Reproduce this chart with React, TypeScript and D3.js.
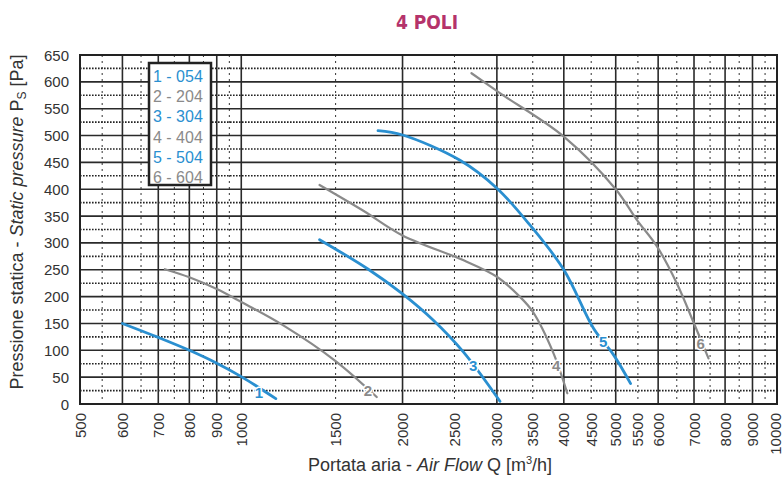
import React from "react";
import * as d3 from "d3";

const BLUE = "#2a8fd0";
const GRAY = "#8a8a8a";

const xTickLabels = [500, 600, 700, 800, 900, 1000, 1500, 2000, 2500, 3000, 3500, 4000, 4500, 5000, 5500, 6000, 7000, 8000, 9000, 10000];
const xSolidGrid = [600, 700, 800, 900, 1000, 2000, 3000, 4000, 5000, 6000, 7000, 8000, 9000];
const xDottedGrid = [550, 650, 750, 850, 950, 1500, 2500, 3500, 4500, 5500, 6500, 7500, 8500, 9500];
const yTickLabels = [0, 50, 100, 150, 200, 250, 300, 350, 400, 450, 500, 550, 600, 650];
const yDottedGrid = [25, 75, 125, 175, 225, 275, 325, 375, 425, 475, 525, 575, 625];

const curve1 = [[600, 150], [700, 124], [800, 100], [900, 76], [1000, 51], [1160, 10]];
const curve2 = [[720, 251], [800, 236], [900, 214], [1000, 190], [1200, 146], [1500, 80], [1790, 13]];
const curve3 = [[1400, 306], [1726, 251], [2000, 205], [2283, 156], [2597, 97], [3040, 5]];
const curve4 = [[1400, 408], [1690, 360], [2000, 314], [2594, 268], [3000, 237], [3310, 200], [3500, 172], [3817, 97], [4060, 20]];
const curve5 = [[1800, 509], [2000, 501], [2560, 454], [3000, 402], [3460, 333], [4000, 250], [4550, 140], [4950, 92], [5330, 38]];
const curve6 = [[2690, 616], [3040, 579], [4000, 498], [5000, 400], [5474, 343], [5965, 294], [6500, 225], [7000, 150], [7450, 85]];

const seriesNames = ["1 - 054", "2 - 204", "3 - 304", "4 - 404", "5 - 504", "6 - 604"];
const seriesTags = ["1", "2", "3", "4", "5", "6"];
const seriesColors = [BLUE, GRAY, BLUE, GRAY, BLUE, GRAY];
const seriesData = [curve1, curve2, curve3, curve4, curve5, curve6];
const labelPositions = [[1079, 22], [1724, 26], [2708, 72], [3870, 72], [4737, 116], [7204, 113]];

export default function App() {
  const W = 783, H = 477;
  const x = d3.scaleLog().domain([500, 10000]).range([80, 777]);
  const y = d3.scaleLinear().domain([0, 650]).range([404, 55]);
  const line = d3.line<number[]>().x(d => x(d[0])).y(d => y(d[1])).curve(d3.curveCatmullRom.alpha(0.5));
  const font = "'Liberation Sans', Arial, sans-serif";

  return (
    <div style={{ position: "absolute", left: 0, top: 0 }}>
      <svg width={W} height={H} style={{ display: "block", background: "#fff" }}>
        <text x={427} y={29} textAnchor="middle" fill="#b5336b"
          style={{ fontFamily: "'Liberation Sans Narrow', 'DejaVu Sans Condensed', sans-serif", fontWeight: 700, fontSize: 19 }}>
          4 POLI
        </text>

        {yDottedGrid.map(v => (
          <line key={"hd" + v} x1={80} x2={777} y1={y(v)} y2={y(v)} stroke="#222" strokeWidth={1.6} strokeDasharray="1.6 1.4" />
        ))}
        {xDottedGrid.map(v => (
          <line key={"vd" + v} x1={x(v)} x2={x(v)} y1={55} y2={404} stroke="#333" strokeWidth={1} strokeDasharray="2 4" />
        ))}
        {yTickLabels.map(v => (
          <line key={"hs" + v} x1={80} x2={777} y1={y(v)} y2={y(v)} stroke="#2a2a2a" strokeWidth={1.6} />
        ))}
        {xSolidGrid.map(v => (
          <line key={"vs" + v} x1={x(v)} x2={x(v)} y1={55} y2={404} stroke="#2a2a2a" strokeWidth={1.6} />
        ))}
        <rect x={80} y={55} width={697} height={349} fill="none" stroke="#222" strokeWidth={2} />

        {yTickLabels.map(v => (
          <text key={"yl" + v} x={69} y={y(v) + 5.5} textAnchor="end" fill="#333" style={{ fontFamily: font, fontSize: 15 }}>
            {v}
          </text>
        ))}
        {xTickLabels.map(v => (
          <text key={"xl" + v} transform={`translate(${Math.min(x(v) + 5.5, 781)},413) rotate(-90)`} textAnchor="end" fill="#333"
            style={{ fontFamily: font, fontSize: 15 }}>
            {v}
          </text>
        ))}

        {seriesData.map((d, i) => (
          <path key={"c" + i} d={line(d) || ""} fill="none" stroke={seriesColors[i]}
            strokeWidth={seriesColors[i] === BLUE ? 2.8 : 2.2} strokeLinecap="round" />
        ))}
        {labelPositions.map((p, i) => (
          <text key={"lb" + i} x={x(p[0])} y={y(p[1]) + 5.5} textAnchor="middle" fill={seriesColors[i]}
            stroke="#fff" strokeWidth={3} paintOrder="stroke"
            style={{ fontFamily: font, fontSize: 15, fontWeight: 700 }}>
            {seriesTags[i]}
          </text>
        ))}

        <rect x={149} y={63} width={62} height={122} fill="#fff" stroke="#222" strokeWidth={2.5} />
        {seriesNames.map((n, i) => (
          <text key={"lg" + i} x={153} y={82 + i * 20.2} fill={seriesColors[i]} style={{ fontFamily: font, fontSize: 16 }}>
            {n}
          </text>
        ))}

        <text transform="translate(23,222) rotate(-90)" textAnchor="middle" fill="#333" style={{ fontFamily: font, fontSize: 18 }}>
          <tspan>Pressione statica - </tspan>
          <tspan fontStyle="italic">Static pressure</tspan>
          <tspan> P</tspan>
          <tspan fontSize={12} dy={3}>S</tspan>
          <tspan dy={-3}> [Pa]</tspan>
        </text>
        <text x={430} y={471} textAnchor="middle" fill="#333" style={{ fontFamily: font, fontSize: 18 }}>
          <tspan>Portata aria - </tspan>
          <tspan fontStyle="italic">Air Flow</tspan>
          <tspan> Q [m</tspan>
          <tspan fontSize={11} dy={-7}>3</tspan>
          <tspan dy={7}>/h]</tspan>
        </text>
      </svg>
    </div>
  );
}
